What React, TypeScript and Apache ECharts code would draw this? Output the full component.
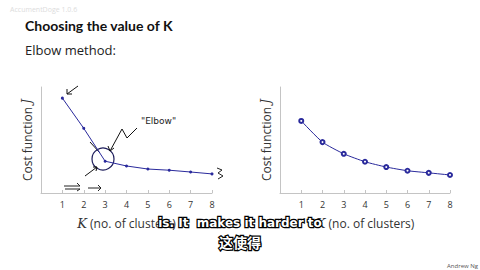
import React, { useEffect, useRef } from "react";
import * as echarts from "echarts";

const kValues = [1, 2, 3, 4, 5, 6, 7, 8];
const elbowCost = [8.95, 6.1, 3.0, 2.55, 2.26, 2.15, 1.98, 1.8];
const smoothCost = [6.8, 4.8, 3.7, 2.95, 2.45, 2.1, 1.9, 1.7];
const xTickLabels = ["1", "2", "3", "4", "5", "6", "7", "8"];

const lineColor = "#2a2a9c";
const axisColor = "#c4c4c4";
const font = "Open Sans";

export default function App() {
  const ref = useRef<HTMLDivElement>(null);
  useEffect(() => {
    if (!ref.current) return;
    const chart = echarts.init(ref.current, undefined, { renderer: "svg" });
    const xAxisBase = (gridIndex: number) => ({
      type: "value" as const,
      gridIndex,
      min: 0,
      max: 8,
      interval: 1,
      name: "{k|K} (no. of clusters)",
      nameLocation: "middle" as const,
      nameGap: 24,
      nameTextStyle: {
        fontFamily: font,
        fontSize: 12,
        color: "#333",
        rich: {
          k: { fontFamily: "DejaVu Serif", fontStyle: "italic", fontSize: 13, color: "#333" },
        },
      },
      axisLine: { show: true, lineStyle: { color: axisColor, width: 1 } },
      axisTick: { show: true, inside: true, length: 3, lineStyle: { color: axisColor } },
      splitLine: { show: false },
      axisLabel: {
        fontFamily: font,
        fontSize: 9,
        color: "#333",
        margin: 7,
        formatter: (v: number) => (v >= 1 ? xTickLabels[v - 1] : ""),
      },
    });
    const yAxisBase = (gridIndex: number) => ({
      type: "value" as const,
      gridIndex,
      min: 0,
      max: 10,
      name: "Cost function {j|J}",
      nameLocation: "middle" as const,
      nameGap: 8,
      nameTextStyle: {
        fontFamily: font,
        fontSize: 12,
        color: "#333",
        rich: {
          j: { fontFamily: "DejaVu Serif", fontStyle: "italic", fontSize: 12, color: "#333" },
        },
      },
      axisLine: { show: true, lineStyle: { color: axisColor, width: 1 } },
      axisTick: { show: false },
      axisLabel: { show: false },
      splitLine: { show: false },
    });

    const ink = "#1c1c5a";
    const option: any = {
      animation: false,
      backgroundColor: "#ffffff",
      grid: [
        { left: 41, top: 87, width: 171, height: 106 },
        { left: 280, top: 87, width: 170, height: 106 },
      ],
      xAxis: [xAxisBase(0), xAxisBase(1)],
      yAxis: [yAxisBase(0), yAxisBase(1)],
      series: [
        {
          type: "line",
          xAxisIndex: 0,
          yAxisIndex: 0,
          data: kValues.map((k, i) => [k, elbowCost[i]]),
          symbol: "circle",
          symbolSize: 3,
          lineStyle: { color: lineColor, width: 1 },
          itemStyle: { color: lineColor },
        },
        {
          type: "line",
          xAxisIndex: 1,
          yAxisIndex: 1,
          data: kValues.map((k, i) => [k, smoothCost[i]]),
          symbol: "emptyCircle",
          symbolSize: 4,
          smooth: 0.2,
          lineStyle: { color: lineColor, width: 1 },
          itemStyle: { color: lineColor, borderWidth: 1 },
        },
      ],
      graphic: [
        {
          type: "text",
          left: 10,
          top: 6,
          style: { text: "AccumentDoge 1.0.6", fontFamily: font, fontSize: 7, fill: "#dcdcdc" },
        },
        {
          type: "text",
          left: 25,
          top: 18,
          style: { text: "Choosing the value of K", fontFamily: "Lato", fontWeight: "bold", fontSize: 14, fill: "#111" },
        },
        {
          type: "text",
          left: 25,
          top: 43,
          style: { text: "Elbow method:", fontFamily: font, fontSize: 13, fill: "#222" },
        },
        // hand annotations
        { type: "circle", shape: { cx: 103, cy: 159, r: 11 }, style: { fill: "none", stroke: ink, lineWidth: 1.2 } },
        {
          type: "text",
          left: 141,
          top: 116,
          style: { text: "\"Elbow\"", fontFamily: "DejaVu Sans", fontSize: 9, fill: "#222", letterSpacing: 1 } as any,
        },
        { type: "polyline", shape: { points: [[110, 151], [122, 129], [127, 138], [137, 128]] }, style: { fill: "none", stroke: "#111", lineWidth: 1 } },
        { type: "polyline", shape: { points: [[108, 146], [110, 151], [114, 148]] }, style: { fill: "none", stroke: "#111", lineWidth: 1 } },
        { type: "polyline", shape: { points: [[90, 142], [100, 153]] }, style: { fill: "none", stroke: "#111", lineWidth: 1 } },
        { type: "polyline", shape: { points: [[85, 176], [97, 167]] }, style: { fill: "none", stroke: "#111", lineWidth: 1 } },
        { type: "polyline", shape: { points: [[93, 167], [97, 167], [96, 171]] }, style: { fill: "none", stroke: "#111", lineWidth: 1 } },
        { type: "polyline", shape: { points: [[78, 86], [67, 94]] }, style: { fill: "none", stroke: "#111", lineWidth: 1 } },
        { type: "polyline", shape: { points: [[67, 89], [67, 94], [72, 94]] }, style: { fill: "none", stroke: "#111", lineWidth: 1 } },
        { type: "polyline", shape: { points: [[64, 186], [80, 186], [77, 183]] }, style: { fill: "none", stroke: "#222", lineWidth: 1 } },
        { type: "polyline", shape: { points: [[65, 189], [80, 189], [77, 191]] }, style: { fill: "none", stroke: "#222", lineWidth: 1 } },
        { type: "polyline", shape: { points: [[88, 188], [101, 188], [98, 185]] }, style: { fill: "none", stroke: "#222", lineWidth: 1 } },
        { type: "polyline", shape: { points: [[98, 191], [101, 188]] }, style: { fill: "none", stroke: "#222", lineWidth: 1 } },
        { type: "polyline", shape: { points: [[217, 168], [222, 170], [218, 173], [223, 176], [218, 179]] }, style: { fill: "none", stroke: "#222", lineWidth: 1 } },
        // subtitles
        {
          type: "text",
          x: 240,
          y: 223,
          z: 100,
          style: {
            text: "is. It  makes it harder to",
            fontFamily: "DejaVu Sans",
            fontWeight: "bold",
            fontSize: 12,
            fill: "#ffffff",
            stroke: "#000000",
            lineWidth: 2.5,
            align: "center",
            verticalAlign: "middle",
          },
        },
        {
          type: "text",
          x: 240,
          y: 242,
          z: 100,
          style: {
            text: "这使得",
            fontFamily: "Noto Sans CJK SC",
            fontWeight: "bold",
            fontSize: 14,
            fill: "#ffffff",
            stroke: "#000000",
            lineWidth: 2.5,
            align: "center",
            verticalAlign: "middle",
          },
        },
        {
          type: "text",
          right: 2,
          bottom: 1,
          style: { text: "Andrew Ng", fontFamily: font, fontSize: 6, fill: "#555" },
        },
      ],
    };
    chart.setOption(option);
    return () => chart.dispose();
  }, []);
  return <div ref={ref} style={{ width: 480, height: 270, position: "fixed", left: 0, top: 0 }} />;
}
